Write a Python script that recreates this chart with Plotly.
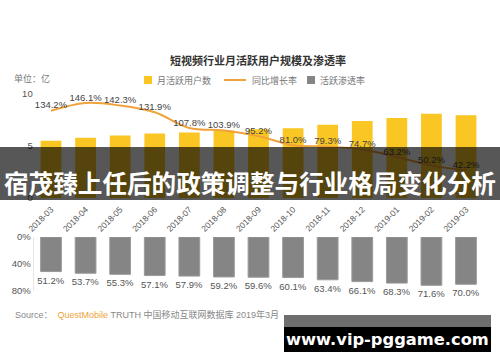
import plotly.graph_objects as go

W, H = 500, 362

months = ["2018-03", "2018-04", "2018-05", "2018-06", "2018-07", "2018-08", "2018-09",
          "2018-10", "2018-11", "2018-12", "2019-01", "2019-02", "2019-03"]
mau = [5.5, 5.8, 6.0, 6.2, 6.3, 6.5, 6.6, 6.7, 7.05, 7.4, 7.7, 8.1, 7.95]
growth = [134.2, 146.1, 142.3, 131.9, 107.8, 103.9, 95.2, 81.0, 79.3, 74.7, 63.2, 50.2, 42.2]
penetration = [51.2, 53.7, 55.3, 57.1, 57.9, 59.2, 59.6, 60.1, 63.4, 66.1, 68.3, 71.6, 70.0]

title_text = "短视频行业月活跃用户规模及渗透率"
unit_text = "单位：亿"
legend_names = ["月活跃用户数", "同比增长率", "活跃渗透率"]
banner_text = "宿茂臻上任后的政策调整与行业格局变化分析"
watermark_text = "www.vip-pggame.com"

YELLOW = "#F9C623"
ORANGE = "#F0A23A"
GRAY = "#858585"
FONT = "Liberation Sans, Noto Sans CJK SC, sans-serif"
CJK = "Noto Sans CJK SC, sans-serif"


def px(x):
    return x / W


def py(y):
    return 1 - y / H


xdom = [px(33.7), px(483.3)]

fig = go.Figure()
fig.add_trace(go.Bar(x=months, y=mau, xaxis="x", yaxis="y", marker=dict(color=YELLOW, line=dict(width=0)),
                     width=0.6, name=legend_names[0], showlegend=False))
fig.add_trace(go.Scatter(x=months, y=growth, xaxis="x", yaxis="y2", mode="lines+text",
                         text=[f"{v:.1f}%" for v in growth], textposition="top center",
                         textfont=dict(size=9.5, color="#444", family=FONT),
                         line=dict(shape="spline", smoothing=1, color=ORANGE, width=2),
                         cliponaxis=False, name=legend_names[1], showlegend=False))
fig.add_trace(go.Bar(x=months, y=penetration, xaxis="x2", yaxis="y3",
                     marker=dict(color=GRAY, line=dict(width=1, color="#9a9a9a")), width=0.6,
                     text=[f"{v:.1f}%" for v in penetration], textposition="outside",
                     constraintext="none", cliponaxis=False,
                     textfont=dict(size=9.5, color="#555", family=FONT),
                     name=legend_names[2], showlegend=False))

fig.update_layout(
    width=W, height=H, margin=dict(l=0, r=0, t=0, b=0, autoexpand=False),
    paper_bgcolor="white", plot_bgcolor="white", showlegend=False,
    font=dict(family=FONT, color="#555", size=9),
    bargap=0.4,
    xaxis=dict(domain=xdom, anchor="y", type="category", tickangle=-45, showline=False, ticks="",
               showgrid=False, automargin=False, ticklabelstandoff=4,
               tickfont=dict(size=8.5, color="#555"), range=[-0.5, 12.5]),
    yaxis=dict(domain=[py(198), py(94)], range=[0, 10], tickvals=[0, 5, 10], showgrid=False,
               automargin=False,
               zeroline=False, showline=False, ticks="", tickfont=dict(size=9.5, color="#555")),
    yaxis2=dict(overlaying="y", anchor="x", range=[0, 160], visible=False, automargin=False),
    xaxis2=dict(domain=xdom, anchor="y3", type="category", showticklabels=False, showline=False, ticks="",
                showgrid=False, range=[-0.5, 12.5], automargin=False),
    yaxis3=dict(domain=[py(291), py(237)], range=[80, 0], tickvals=[0, 40, 80], automargin=False,
                ticktext=["0%", "40%", "80%"], showgrid=False, zeroline=False, showline=True,
                linecolor="#e6e6e6", ticks="", tickfont=dict(size=9.5, color="#555")),
)

shapes = []
annotations = []


def note(x, y, text, size, color, family=CJK, xanchor="center"):
    annotations.append(dict(x=px(x), y=py(y), xref="paper", yref="paper", text=text, xanchor=xanchor,
                            yanchor="middle", showarrow=False, font=dict(size=size, color=color, family=family)))


# title and unit
note(258, 60, f"<b>{title_text}</b>", 11, "#333")
note(12, 78, unit_text, 9, "#777", xanchor="left")

# legend
shapes.append(dict(type="rect", xref="paper", yref="paper", x0=px(144), x1=px(152), y0=py(84), y1=py(76),
                   fillcolor=YELLOW, line=dict(width=0)))
note(155, 80, legend_names[0], 9, "#777", xanchor="left")
shapes.append(dict(type="line", xref="paper", yref="paper", x0=px(224), x1=px(246), y0=py(80), y1=py(80),
                   line=dict(color=ORANGE, width=2)))
note(250, 80, legend_names[1], 9, "#777", xanchor="left")
shapes.append(dict(type="rect", xref="paper", yref="paper", x0=px(307), x1=px(315), y0=py(84), y1=py(76),
                   fillcolor=GRAY, line=dict(width=0)))
note(318, 80, legend_names[2], 9, "#777", xanchor="left")

# source
note(13, 314, "Source：  <span style='color:#F0A23A'>QuestMobile</span> TRUTH 中国移动互联网数据库 2019年3月",
     9, "#888", family=FONT, xanchor="left")

# banner overlay
shapes.append(dict(type="rect", xref="paper", yref="paper", x0=0, x1=1, y0=py(200), y1=py(147),
                   fillcolor="rgba(0,0,0,0.66)", line=dict(width=0), layer="above"))
note(250, 182, f"<b>{banner_text}</b>", 24.6, "white")

# watermark box
shapes.append(dict(type="rect", xref="paper", yref="paper", x0=px(284), x1=px(491), y0=py(327), y1=py(315),
                   fillcolor="#6e6e6e", line=dict(width=0), layer="above"))
shapes.append(dict(type="rect", xref="paper", yref="paper", x0=px(284), x1=px(491), y0=py(352), y1=py(327),
                   fillcolor="black", line=dict(width=0), layer="above"))
note(387, 339, f"<b>{watermark_text}</b>", 16.3, "white", family="DejaVu Sans, sans-serif")

fig.update_layout(shapes=shapes, annotations=annotations)
fig.write_html("out.html", config={"displayModeBar": False},
               post_script="document.body.style.margin='0';document.body.style.overflow='hidden';")
